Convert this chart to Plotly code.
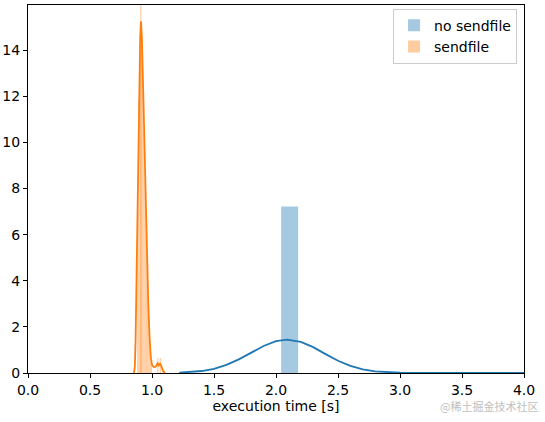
import plotly.graph_objects as go

# histogram bars (bin centres / heights), seaborn distplot style
nosend_bin_x = [2.11]
nosend_bin_h = [7.22]
nosend_bin_w = 0.137

send_bin_x = [0.885, 0.895, 0.905, 0.91, 0.915, 0.925, 0.935, 0.945, 0.955,
              0.965, 0.975, 0.985, 0.995, 1.047, 1.067]
send_bin_h = [7.0, 11.8, 14.4, 17.5, 14.8, 12.6, 10.5, 8.4, 6.0,
              3.8, 2.3, 1.2, 0.5, 0.65, 0.65]
send_bin_w = 0.0095

# kde curves
nosend_kde_x = [1.22, 1.3, 1.4, 1.5, 1.6, 1.7, 1.8, 1.9, 2.0, 2.09, 2.2, 2.3,
                2.4, 2.5, 2.6, 2.7, 2.8, 2.9, 3.0, 3.2, 3.5, 4.0]
nosend_kde_y = [0.016, 0.036, 0.086, 0.18, 0.35, 0.59, 0.88, 1.17, 1.38, 1.45, 1.35, 1.12,
                0.82, 0.53, 0.31, 0.16, 0.072, 0.03, 0.01, 0.003, 0.0, 0.0]

send_kde_x = [0.855, 0.862, 0.868, 0.875, 0.885, 0.895, 0.905, 0.911, 0.918, 0.928,
              0.94, 0.95, 0.96, 0.97, 0.98, 0.99, 1.0, 1.015, 1.03, 1.045, 1.055,
              1.065, 1.075, 1.09, 1.105]
send_kde_y = [0.0, 0.3, 1.5, 4.0, 8.0, 12.0, 14.6, 15.25, 14.6, 12.5,
              9.5, 7.2, 4.8, 3.0, 1.6, 0.7, 0.35, 0.25, 0.28, 0.42, 0.33,
              0.42, 0.3, 0.08, 0.0]

x_ticks = [0.0, 0.5, 1.0, 1.5, 2.0, 2.5, 3.0, 3.5, 4.0]
y_ticks = [0, 2, 4, 6, 8, 10, 12, 14]

blue = '#1f77b4'
orange = '#ff7f0e'
font = dict(family='DejaVu Sans', size=14, color='black')

fig = go.Figure()
fig.add_trace(go.Bar(x=nosend_bin_x, y=nosend_bin_h, width=nosend_bin_w, name='no sendfile',
                     marker=dict(color='rgba(31,119,180,0.4)', line_width=0)))
fig.add_trace(go.Scatter(x=nosend_kde_x, y=nosend_kde_y, mode='lines', showlegend=False,
                         line=dict(color=blue, width=1.8)))
fig.add_trace(go.Bar(x=send_bin_x, y=send_bin_h, width=send_bin_w, name='sendfile',
                     marker=dict(color='rgba(255,127,14,0.4)', line_width=0)))
fig.add_trace(go.Scatter(x=send_kde_x, y=send_kde_y, mode='lines', showlegend=False,
                         line=dict(color=orange, width=1.8)))

axis = dict(showline=True, mirror=True, linecolor='black', linewidth=1, showgrid=False,
            zeroline=False, ticks='outside', ticklen=4, tickcolor='black', automargin=False,
            tickfont=font)
fig.update_layout(
    template='none', width=545, height=422, barmode='overlay',
    margin=dict(l=28, r=21, t=5, b=49),
    paper_bgcolor='white', plot_bgcolor='white', font=font,
    xaxis=dict(axis, range=[0, 4], tickvals=x_ticks, ticktext=[f'{v:.1f}' for v in x_ticks],
               title=dict(text='execution time [s]', font=font, standoff=3)),
    yaxis=dict(axis, range=[0, 15.96], tickvals=y_ticks),
    legend=dict(x=0.986, y=0.99, xanchor='right', yanchor='top', bgcolor='rgba(255,255,255,0.8)',
                bordercolor='#cccccc', borderwidth=1, font=font, tracegroupgap=0),
)
fig.add_annotation(text='@稀土掘金技术社区', xref='paper', yref='paper', x=1.032, y=-0.09,
                   xanchor='right', yanchor='middle', showarrow=False,
                   font=dict(family='Noto Sans CJK SC', size=11, color='#c0c0c0'))
fig.write_html('out.html', config={'displayModeBar': False},
               post_script="document.body.style.margin='0';")
